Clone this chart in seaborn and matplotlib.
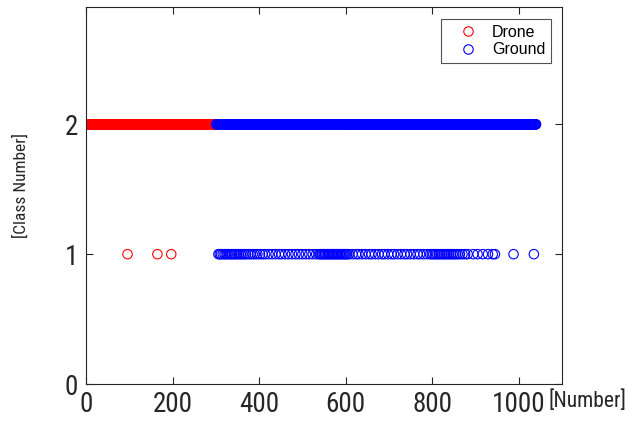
import numpy as np
import pandas as pd
import matplotlib
matplotlib.use("Agg")
import matplotlib.pyplot as plt
import seaborn as sns
from matplotlib import font_manager
from matplotlib.lines import Line2D

# ---- data ----
drone_range = (1, 300)          # sample numbers of the Drone class
ground_range = (301, 1040)      # sample numbers of the Ground class
drone_class1 = [96, 165, 197]   # Drone samples classified as 1
ground_class1 = [
    306, 309, 312, 316, 320, 323, 327, 331, 335, 338, 342, 346, 350, 354, 358,
    362, 366, 370, 375, 380, 385, 390, 396, 402, 408, 414, 422, 430, 438, 446,
    452, 460, 468, 476, 484, 492, 500, 508, 516, 524, 532, 538, 541, 544, 547,
    550, 553, 556, 559, 562, 565, 568, 571, 574, 577, 580, 583, 586, 589, 592,
    595, 598, 601, 604, 608, 616, 624, 630, 638, 646, 654, 660, 668, 676, 684,
    690, 698, 706, 712, 720, 728, 736, 742, 750, 758, 766, 772, 780, 788, 795,
    799, 803, 807, 811, 815, 819, 823, 827, 831, 835, 839, 843, 847, 851, 855,
    859, 864, 870, 876, 882, 895, 905, 917, 929, 940, 945, 988, 1035,
]
labels = ["Drone", "Ground"]
colors = ["#ff0000", "#0000ff"]
xticks = [0, 200, 400, 600, 800, 1000]
yticks = [0, 1, 2]

# ---- build table ----
d_idx = np.arange(drone_range[0], drone_range[1] + 1)
g_idx = np.arange(ground_range[0], ground_range[1] + 1)
d_cls = np.where(np.isin(d_idx, drone_class1), 1, 2)
g_cls = np.where(np.isin(g_idx, ground_class1), 1, 2)
df = pd.DataFrame({
    "Number": np.concatenate([d_idx, g_idx]),
    "Class": np.concatenate([d_cls, g_cls]),
    "Type": [labels[0]] * len(d_idx) + [labels[1]] * len(g_idx),
})

sns.set_theme(style="white")
plt.rcParams["font.family"] = ["Liberation Sans", "DejaVu Sans"]

names = {f.name for f in font_manager.fontManager.ttflist}
cond = "Liberation Sans"
for cand in ["Liberation Sans Narrow", "DejaVu Sans Condensed", "Roboto Condensed",
             "Open Sans Condensed"]:
    if cand in names:
        cond = cand
        break

fig = plt.figure(figsize=(6.39, 4.23), dpi=100)
ax = fig.add_axes([86 / 639, 1 - 384 / 423, (562 - 86) / 639, (384 - 7.5) / 423])

for lab, c in zip(labels, colors):
    sub = df[df["Type"] == lab]
    sns.scatterplot(data=sub, x="Number", y="Class", ax=ax, marker="o", s=46,
                    facecolor="none", edgecolor=c, linewidth=0.8, legend=False)

ax.set_xlim(0, 1100)
ax.set_ylim(0, 2.9)
ax.set_xticks(xticks)
ax.set_yticks(yticks)
ax.set_xlabel("")
ax.set_ylabel("")

for s in ax.spines.values():
    s.set_visible(True)
    s.set_color("#262626")
    s.set_linewidth(0.8)
ax.tick_params(direction="in", length=5, width=0.8, colors="#262626",
               top=True, right=True, bottom=True, left=True)
ax.tick_params(axis="x", pad=5)
ax.tick_params(axis="y", pad=5.5)
for t in ax.get_xticklabels() + ax.get_yticklabels():
    t.set_fontfamily([cond, "Liberation Sans"])
    t.set_fontsize(19.5)

fig.text(548 / 639, 1 - 401 / 423, "[Number]", ha="left", va="center",
         family=[cond, "Liberation Sans"], fontsize=15.5, color="#262626")
fig.text(20.5 / 639, 1 - 186 / 423, "[Class Number]", ha="center", va="center",
         rotation=90, family=[cond, "Liberation Sans"], fontsize=12.5,
         color="#262626")

handles = [Line2D([], [], marker="o", linestyle="none", markerfacecolor="none",
                  markeredgecolor=c, markersize=6.8, markeredgewidth=0.8)
           for c in colors]
leg = ax.legend(handles, labels, loc="upper right", bbox_to_anchor=(0.977, 0.9695),
                frameon=True, fancybox=False, fontsize=11.5, handletextpad=0.15,
                borderpad=0.35, labelspacing=0.18, handlelength=2.7,
                borderaxespad=0)
leg.get_frame().set_edgecolor("#262626")
leg.get_frame().set_linewidth(0.8)
for t in leg.get_texts():
    t.set_color("black")

fig.savefig("out.png", dpi=100)
